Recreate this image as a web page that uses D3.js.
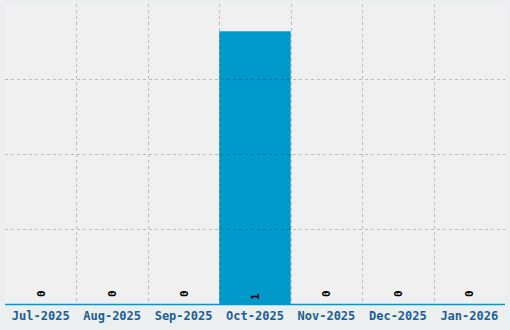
<!DOCTYPE html>
<html>
<head>
<meta charset="utf-8">
<script src="https://cdn.jsdelivr.net/npm/d3@7"></script>
<style>
  html, body { margin: 0; padding: 0; background: #ebeff0; }
  svg { display: block; }
  .grid line { stroke: rgba(0, 0, 0, 0.22); stroke-dasharray: 3,3; stroke-width: 1; }
  .x-label { font-family: "DejaVu Sans Mono", monospace; font-weight: bold; font-size: 12px; fill: #1b5f94; }
  .val { font-family: "DejaVu Sans Mono", monospace; font-weight: bold; font-size: 11px; fill: #000; }
</style>
</head>
<body>
<div id="chart"></div>
<script>
// monthly counts
const months = ['Jul-2025', 'Aug-2025', 'Sep-2025', 'Oct-2025', 'Nov-2025', 'Dec-2025', 'Jan-2026'];
const counts = [0, 0, 0, 1, 0, 0, 0];
const yMax = 1.1;

const width = 510, height = 330;
const plot = { left: 5, top: 4, right: 505, bottom: 304 };

const svg = d3.select('#chart').append('svg')
  .attr('width', width)
  .attr('height', height);

svg.append('rect')
  .attr('x', plot.left).attr('y', plot.top)
  .attr('width', plot.right - plot.left)
  .attr('height', plot.bottom - plot.top)
  .attr('fill', '#f0f0f0');

const x = d3.scaleBand().domain(months).range([plot.left, plot.right]).padding(0);
const y = d3.scaleLinear().domain([0, yMax]).range([plot.bottom, plot.top]);

// ── bars ─────────────────────────────
svg.selectAll('rect.bar').data(counts)
  .join('rect')
  .attr('class', 'bar')
  .attr('x', (d, i) => x(months[i]))
  .attr('y', d => y(d))
  .attr('width', x.bandwidth())
  .attr('height', d => plot.bottom - y(d))
  .attr('fill', '#0099cc');

// ── grid (drawn over the bars) ───────
const grid = svg.append('g').attr('class', 'grid');
const yTicks = d3.range(1, 4).map(k => yMax * k / 4);
grid.selectAll('line.h').data(yTicks)
  .join('line')
  .attr('class', 'h')
  .attr('x1', plot.left).attr('x2', plot.right)
  .attr('y1', d => Math.round(y(d)) + 0.5)
  .attr('y2', d => Math.round(y(d)) + 0.5);
grid.selectAll('line.v').data(months.slice(1))
  .join('line')
  .attr('class', 'v')
  .attr('x1', d => Math.round(x(d)) + 0.5)
  .attr('x2', d => Math.round(x(d)) + 0.5)
  .attr('y1', plot.top).attr('y2', plot.bottom);

// ── x axis ───────────────────────────
svg.append('line')
  .attr('x1', plot.left).attr('x2', plot.right)
  .attr('y1', plot.bottom + 0.5).attr('y2', plot.bottom + 0.5)
  .attr('stroke', '#0099cc')
  .attr('stroke-width', 1.5);

svg.selectAll('text.x-label').data(months)
  .join('text')
  .attr('class', 'x-label')
  .attr('x', d => x(d) + x.bandwidth() / 2)
  .attr('y', 320)
  .attr('text-anchor', 'middle')
  .text(d => d);

// ── value labels (rotated, reading upward) ───
svg.selectAll('text.val').data(counts)
  .join('text')
  .attr('class', 'val')
  .attr('text-anchor', 'start')
  .attr('transform', (d, i) => {
    const cx = x(months[i]) + x.bandwidth() / 2 + 4;
    const cy = d > 0 ? plot.bottom - 4 : y(d) - 7;
    return `translate(${cx},${cy}) rotate(-90)`;
  })
  .text(d => d);
</script>
</body>
</html>
